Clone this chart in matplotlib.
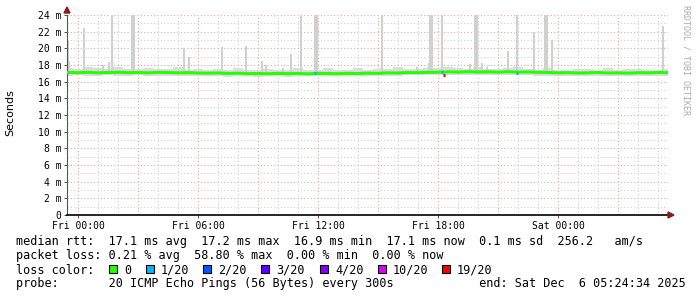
import matplotlib.pyplot as plt
from matplotlib.patches import Rectangle, Polygon

# time in hours relative to Fri 00:00, one value every 30 min
hours = [-0.5 + 0.5 * i for i in range(61)]
median = [17.10, 17.08, 17.12, 17.06, 17.10, 17.12, 17.08, 17.10, 17.06, 17.12,
          17.10, 17.06, 17.08, 17.04, 17.02, 17.05, 16.98, 17.02, 16.96, 16.98,
          16.95, 17.00, 16.96, 16.98, 16.94, 17.00, 16.98, 16.96, 17.00, 16.97,
          17.02, 17.00, 17.06, 17.04, 17.10, 17.08, 17.12, 17.14, 17.18, 17.15,
          17.20, 17.16, 17.18, 17.14, 17.20, 17.15, 17.17, 17.12, 17.10, 17.06,
          17.08, 17.04, 17.06, 17.10, 17.04, 17.06, 17.02, 17.08, 17.06, 17.10,
          17.08]
smoke_lo = [16.70, 16.75, 16.72, 16.70, 16.74, 16.70, 16.72, 16.75, 16.70, 16.72,
            16.70, 16.68, 16.70, 16.65, 16.62, 16.66, 16.60, 16.62, 16.64, 16.60,
            16.62, 16.65, 16.60, 16.62, 16.66, 16.64, 16.65, 16.62, 16.64, 16.66,
            16.68, 16.70, 16.72, 16.70, 16.74, 16.76, 16.75, 16.78, 16.80, 16.78,
            16.80, 16.78, 16.76, 16.78, 16.75, 16.74, 16.76, 16.72, 16.70, 16.68,
            16.66, 16.65, 16.68, 16.70, 16.66, 16.64, 16.66, 16.70, 16.68, 16.70,
            16.72]
smoke_hi = [17.60, 17.55, 17.70, 17.60, 17.50, 17.75, 17.55, 17.50, 17.65, 17.50,
            17.55, 17.70, 17.40, 17.55, 17.45, 17.50, 17.35, 17.60, 17.45, 17.40,
            17.55, 17.40, 17.38, 17.60, 17.40, 17.42, 17.65, 17.40, 17.45, 17.60,
            17.45, 17.50, 17.55, 17.70, 17.55, 17.50, 17.65, 17.60, 17.75, 17.60,
            17.55, 17.70, 17.50, 17.55, 17.60, 17.75, 17.50, 17.45, 17.60, 17.45,
            17.40, 17.55, 17.50, 17.45, 17.60, 17.45, 17.50, 17.55, 17.40, 17.45,
            17.50]

# single ping outliers (hour, top in ms)
spike_hours = [-0.5, -0.45, 0.3, 1.0, 1.25, 1.55, 1.7, 2.7, 2.8, 5.3, 5.55, 7.2,
               8.4, 9.2, 9.4, 10.25, 10.65, 11.15, 11.85, 11.95, 15.2, 16.95, 17.55,
               17.6, 17.7, 18.2, 19.6, 19.85, 19.95, 20.2, 20.45, 21.5, 21.95, 22.8,
               23.35, 23.45, 23.7, 29.25]
spike_tops = [20.9, 18.5, 22.4, 17.6, 18.0, 18.4, 24.0, 24.0, 24.0, 20.0, 19.0, 20.2,
              20.3, 18.5, 18.0, 17.6, 19.3, 24.0, 24.0, 24.0, 24.0, 17.8, 18.2,
              24.0, 24.0, 24.0, 18.1, 24.0, 24.0, 18.2, 17.7, 19.7, 24.0, 22.0,
              24.0, 24.0, 21.0, 22.7]

# loss events on the median line (hour, value, colour)
loss_hours = [11.85, 18.2, 18.3, 21.95]
loss_values = [17.0, 17.2, 16.8, 17.0]
loss_colors = ['#00b8ff', '#00b8ff', '#ff0000', '#00b8ff']

legend_labels = ['0', '1/20', '2/20', '3/20', '4/20', '10/20', '19/20']
legend_colors = ['#26ff00', '#00b8ff', '#0059ff', '#5e00ff', '#7e00ff', '#dd00ff', '#ff0000']

W, H = 697, 297
fig = plt.figure(figsize=(W / 100, H / 100), dpi=100)
ax = fig.add_axes([67 / W, (H - 215) / H, 601 / W, 200 / H])
ax.set_xlim(-0.55, 29.5)
ax.set_ylim(0, 24)

# grid
for h in range(0, 30):
    if h % 3:
        ax.axvline(h, color='#d2d2d2', lw=0.8, ls=(0, (1, 2)), zorder=0)
for h in range(0, 30, 3):
    ax.axvline(h, color='#e4a8a8', lw=0.8, ls=(0, (1, 2)), zorder=0)
for v in range(1, 25, 2):
    ax.axhline(v, color='#d2d2d2', lw=0.8, ls=(0, (1, 2)), zorder=0)
for v in range(2, 25, 2):
    ax.axhline(v, color='#e4a8a8', lw=0.8, ls=(0, (1, 2)), zorder=0)

# smoke
ax.bar(hours, [hi - lo for lo, hi in zip(smoke_lo, smoke_hi)], bottom=smoke_lo,
       width=0.5, color='#dcdcdc', zorder=1, linewidth=0)
ax.bar(spike_hours, [t - 16.9 for t in spike_tops], bottom=16.9, width=0.085,
       color='#d0d0d0', zorder=1, linewidth=0)

# median
ax.plot(hours, median, color='#26ff00', lw=2.2, zorder=3)
for h, v, c in zip(loss_hours, loss_values, loss_colors):
    ax.plot([h - 0.06, h + 0.06], [v, v], color=c, lw=2.2, zorder=4,
            solid_capstyle='butt')

for s in ['top', 'right']:
    ax.spines[s].set_visible(False)
ax.spines['left'].set_color('#555555')
ax.spines['bottom'].set_color('black')
ax.spines['bottom'].set_linewidth(1.2)

ax.set_yticks(range(0, 25, 2))
ax.set_yticklabels(['0'] + [f'{v} m' for v in range(2, 25, 2)])
ax.set_xticks([0, 6, 12, 18, 24])
ax.set_xticklabels(['Fri 00:00', 'Fri 06:00', 'Fri 12:00', 'Fri 18:00', 'Sat 00:00'])
ax.tick_params(axis='both', labelsize=7, colors='#333333', length=2, pad=2,
               width=0.6)
for lab in ax.get_xticklabels() + ax.get_yticklabels():
    lab.set_family('DejaVu Sans Mono')
    lab.set_color('black')

# axis arrows
fig.patches.append(Polygon([[64 / W, (H - 13) / H], [70 / W, (H - 13) / H],
                            [67 / W, (H - 7) / H]], closed=True,
                           transform=fig.transFigure, color='#8b1a1a'))
fig.patches.append(Polygon([[668 / W, (H - 212) / H], [668 / W, (H - 218) / H],
                            [674 / W, (H - 215) / H]], closed=True,
                           transform=fig.transFigure, color='#8b1a1a'))

fig.text(10 / W, 1 - 113 / H, 'Seconds', rotation=90, ha='center', va='center',
         fontsize=8, family='DejaVu Sans')
fig.text(686 / W, 1 - 5 / H, 'RRDTOOL / TOBI OETIKER', rotation=270, ha='center',
         va='top', fontsize=6, family='DejaVu Sans Mono', color='#aaaaaa')

mono = dict(fontsize=8.5, family='DejaVu Sans Mono', va='baseline', ha='left')
fig.text(16 / W, 1 - 245.5 / H,
         'median rtt:  17.1 ms avg  17.2 ms max  16.9 ms min  17.1 ms now  0.1 ms sd  256.2   am/s',
         **mono)
fig.text(16 / W, 1 - 259.5 / H,
         'packet loss: 0.21 % avg  58.80 % max  0.00 % min  0.00 % now', **mono)
fig.text(16 / W, 1 - 273.5 / H, 'loss color:', **mono)
fig.text(16 / W, 1 - 287.5 / H,
         'probe:       20 ICMP Echo Pings (56 Bytes) every 300s            end: Sat Dec  6 05:24:34 2025',
         **mono)

box_x = [109, 146, 203, 261, 320, 378, 442]
for bx, lab, col in zip(box_x, legend_labels, legend_colors):
    fig.patches.append(Rectangle((bx / W, 1 - 273 / H), 8 / W, 8 / H,
                                 transform=fig.transFigure, facecolor=col,
                                 edgecolor='black', lw=0.8))
    fig.text((bx + 15) / W, 1 - 273.5 / H, lab, **mono)

fig.savefig('out.png', dpi=100)
